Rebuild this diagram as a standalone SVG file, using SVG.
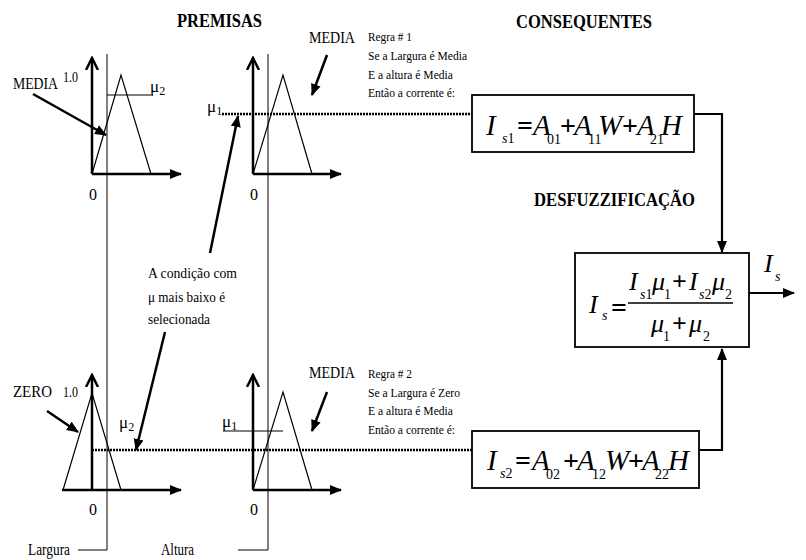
<svg xmlns="http://www.w3.org/2000/svg" width="806" height="560" viewBox="0 0 806 560">
<style>
.t{font-family:'Liberation Serif','DejaVu Serif','Times New Roman',serif;fill:#000}
.h{font-weight:bold;font-size:18px}
.lab{font-size:16px}
.rule{font-size:13px}
.mid{font-size:14px}
.f{font-family:'Liberation Serif','DejaVu Serif','Times New Roman',serif;font-style:italic;font-size:29px;fill:#000}
.fs{font-family:'Liberation Serif','DejaVu Serif','Times New Roman',serif;font-size:14px;fill:#000}
.op{font-family:'Liberation Serif','DejaVu Serif','Times New Roman',serif;font-size:28px;font-weight:bold;fill:#000}
.g{font-size:26px}
.ax{stroke:#000;stroke-width:2.5;fill:none}
.thin{stroke:#000;stroke-width:1;fill:none}
.mf{stroke:#000;stroke-width:1.2;fill:none}
.ptr{stroke:#000;stroke-width:2.5;fill:none;marker-end:url(#ah)}
.dot{stroke:#000;stroke-width:2.5;stroke-dasharray:2 1;fill:none}
.box{stroke:#000;stroke-width:1.8;fill:#fff}
.con{stroke:#000;stroke-width:2.2;fill:none}
</style>
<defs>
<marker id="ah" viewBox="0 0 12 10" markerUnits="userSpaceOnUse" markerWidth="12" markerHeight="11" refX="11" refY="5" orient="auto">
<path d="M0,0 L12,5 L0,10 z" fill="#000"/>
</marker>
<marker id="chev" viewBox="0 0 14 14" markerUnits="userSpaceOnUse" markerWidth="14" markerHeight="14" refX="12" refY="7" orient="auto">
<path d="M0,1 L12,7 L0,13" fill="none" stroke="#000" stroke-width="2.5"/>
</marker>
</defs>

<g id="headers">
<text class="t h" x="177" y="27" textLength="85" lengthAdjust="spacingAndGlyphs">PREMISAS</text>
<text class="t h" x="516" y="28" textLength="136" lengthAdjust="spacingAndGlyphs">CONSEQUENTES</text>
<text class="t h" x="534" y="206" textLength="161" lengthAdjust="spacingAndGlyphs">DESFUZZIFICAÇÃO</text>
</g>

<g id="guides">
<polyline class="thin" points="107,54 107,550 78,550"/>
<polyline class="thin" points="268,54 268,550 238,550"/>
<text class="t lab" x="28" y="555" textLength="42" lengthAdjust="spacingAndGlyphs">Largura</text>
<text class="t lab" x="161" y="555" textLength="33" lengthAdjust="spacingAndGlyphs">Altura</text>
</g>

<g id="graph-largura-1">
<line class="ax" x1="92" y1="174" x2="92" y2="58" marker-end="url(#chev)"/>
<line class="ax" x1="92" y1="174" x2="181" y2="174" marker-end="url(#ah)"/>
<polyline class="mf" points="92,174 121,75 151,174"/>
<line class="mf" x1="107" y1="95" x2="151" y2="95"/>
<text class="t lab" x="13" y="89" textLength="45" lengthAdjust="spacingAndGlyphs">MEDIA</text>
<text class="t" font-size="14" x="63" y="82" textLength="15" lengthAdjust="spacingAndGlyphs">1.0</text>
<text class="t" font-size="17" x="150" y="92">μ<tspan font-size="12" dy="3">2</tspan></text>
<text class="t lab" x="89" y="200">0</text>
</g>

<g id="graph-altura-1">
<line class="ax" x1="253" y1="174" x2="253" y2="58" marker-end="url(#chev)"/>
<line class="ax" x1="253" y1="174" x2="341" y2="174" marker-end="url(#ah)"/>
<polyline class="mf" points="253,174 283,75 312,174"/>
<text class="t lab" x="309" y="43" textLength="46" lengthAdjust="spacingAndGlyphs">MEDIA</text>
<text class="t" font-size="17" x="207" y="112">μ<tspan font-size="12" dy="3">1</tspan></text>
<text class="t lab" x="250" y="200">0</text>
</g>

<g id="rule-1">
<text class="t rule" x="368" y="41" textLength="44" lengthAdjust="spacingAndGlyphs">Regra # 1</text>
<text class="t rule" x="368" y="60" textLength="99" lengthAdjust="spacingAndGlyphs">Se a Largura é Media</text>
<text class="t rule" x="368" y="79" textLength="85" lengthAdjust="spacingAndGlyphs">E a altura é Media</text>
<text class="t rule" x="368" y="97" textLength="87" lengthAdjust="spacingAndGlyphs">Então a corrente é:</text>
</g>

<g id="graph-largura-2">
<line class="ax" x1="92" y1="490" x2="92" y2="375" marker-end="url(#chev)"/>
<line class="ax" x1="62" y1="490" x2="181" y2="490" marker-end="url(#ah)"/>
<polyline class="mf" points="63,490 92,393 121,490"/>
<text class="t lab" x="13" y="397" textLength="39" lengthAdjust="spacingAndGlyphs">ZERO</text>
<text class="t" font-size="14" x="63" y="397" textLength="15" lengthAdjust="spacingAndGlyphs">1.0</text>
<text class="t" font-size="17" x="119" y="428">μ<tspan font-size="12" dy="3">2</tspan></text>
<text class="t lab" x="89" y="515">0</text>
</g>

<g id="graph-altura-2">
<line class="ax" x1="253" y1="490" x2="253" y2="375" marker-end="url(#chev)"/>
<line class="ax" x1="253" y1="490" x2="341" y2="490" marker-end="url(#ah)"/>
<polyline class="mf" points="253,490 283,392 312,490"/>
<line class="mf" x1="223" y1="431" x2="283" y2="431"/>
<text class="t lab" x="309" y="378" textLength="46" lengthAdjust="spacingAndGlyphs">MEDIA</text>
<text class="t" font-size="17" x="222" y="427">μ<tspan font-size="12" dy="3">1</tspan></text>
<text class="t lab" x="250" y="515">0</text>
</g>

<g id="rule-2">
<text class="t rule" x="368" y="378" textLength="44" lengthAdjust="spacingAndGlyphs">Regra # 2</text>
<text class="t rule" x="368" y="397" textLength="92" lengthAdjust="spacingAndGlyphs">Se a Largura é Zero</text>
<text class="t rule" x="368" y="415" textLength="85" lengthAdjust="spacingAndGlyphs">E a altura é Media</text>
<text class="t rule" x="368" y="434" textLength="87" lengthAdjust="spacingAndGlyphs">Então a corrente é:</text>
</g>

<g id="note">
<text class="t mid" x="148" y="278" textLength="89" lengthAdjust="spacingAndGlyphs">A condição com</text>
<text class="t mid" x="148" y="302" textLength="77" lengthAdjust="spacingAndGlyphs">μ mais baixo é</text>
<text class="t mid" x="148" y="324" textLength="62" lengthAdjust="spacingAndGlyphs">selecionada</text>
</g>

<g id="box-is1">
<rect class="box" x="472" y="95" width="222" height="57"/>
<text class="f" x="486" y="135">I</text>
<text class="fs" x="502" y="143"><tspan font-style="italic">s</tspan>1</text>
<text class="op" x="517" y="135">=</text>
<text class="f" x="533" y="135">A</text>
<text class="fs" x="547" y="144">01</text>
<text class="op" x="560" y="135">+</text>
<text class="f" x="574" y="135">A</text>
<text class="fs" x="588" y="144">11</text>
<text class="f" x="598" y="135">W</text>
<text class="op" x="622" y="135">+</text>
<text class="f" x="637" y="135">A</text>
<text class="fs" x="650" y="144">21</text>
<text class="f" x="661" y="135">H</text>
</g>

<g id="box-is2">
<rect class="box" x="472" y="431" width="227" height="57"/>
<text class="f" x="487" y="470">I</text>
<text class="fs" x="500" y="478"><tspan font-style="italic">s</tspan>2</text>
<text class="op" x="515" y="470">=</text>
<text class="f" x="532" y="470">A</text>
<text class="fs" x="546" y="479">02</text>
<text class="op" x="563" y="470">+</text>
<text class="f" x="577" y="470">A</text>
<text class="fs" x="592" y="479">12</text>
<text class="f" x="605" y="470">W</text>
<text class="op" x="628" y="470">+</text>
<text class="f" x="642" y="470">A</text>
<text class="fs" x="655" y="479">22</text>
<text class="f" x="668" y="470">H</text>
</g>

<g id="box-is">
<rect class="box" x="575" y="253" width="174" height="94"/>
<text class="f g" x="589" y="313">I</text>
<text class="fs" x="602" y="320" font-style="italic">s</text>
<text class="op" x="611" y="317">=</text>
<text class="f g" x="629" y="290">I</text>
<text class="fs" x="640" y="299"><tspan font-style="italic">s</tspan>1</text>
<text class="f g" x="652" y="290">μ</text>
<text class="fs" x="664" y="299">1</text>
<text class="op g" x="672" y="290">+</text>
<text class="f g" x="689" y="290">I</text>
<text class="fs" x="699" y="299"><tspan font-style="italic">s</tspan>2</text>
<text class="f g" x="712" y="290">μ</text>
<text class="fs" x="725" y="299">2</text>
<line x1="628" y1="303" x2="733" y2="303" stroke="#000" stroke-width="1.5"/>
<text class="f g" x="651" y="332">μ</text>
<text class="fs" x="663" y="341">1</text>
<text class="op g" x="672" y="332">+</text>
<text class="f g" x="689" y="332">μ</text>
<text class="fs" x="703" y="341">2</text>
</g>

<g id="output-label">
<text class="f g" x="764" y="272">I</text>
<text class="fs" x="775" y="281" font-style="italic">s</text>
</g>

<g id="connectors">
<line class="dot" x1="222" y1="114" x2="472" y2="114"/>
<line class="dot" x1="92" y1="450" x2="472" y2="450"/>
<line class="ptr" x1="33" y1="94" x2="106" y2="135"/>
<line class="ptr" x1="327" y1="55" x2="312" y2="95"/>
<line class="ptr" x1="210" y1="253" x2="238" y2="116"/>
<line class="ptr" x1="165" y1="332" x2="136" y2="450"/>
<line class="ptr" x1="47" y1="411" x2="78" y2="432"/>
<line class="ptr" x1="327" y1="392" x2="312" y2="431"/>
<polyline class="con" points="694,114 722,114 722,252" marker-end="url(#ah)"/>
<polyline class="con" points="699,450 722,450 722,349" marker-end="url(#ah)"/>
<line class="con" x1="749" y1="293" x2="794" y2="293" marker-end="url(#ah)"/>
</g>
</svg>
